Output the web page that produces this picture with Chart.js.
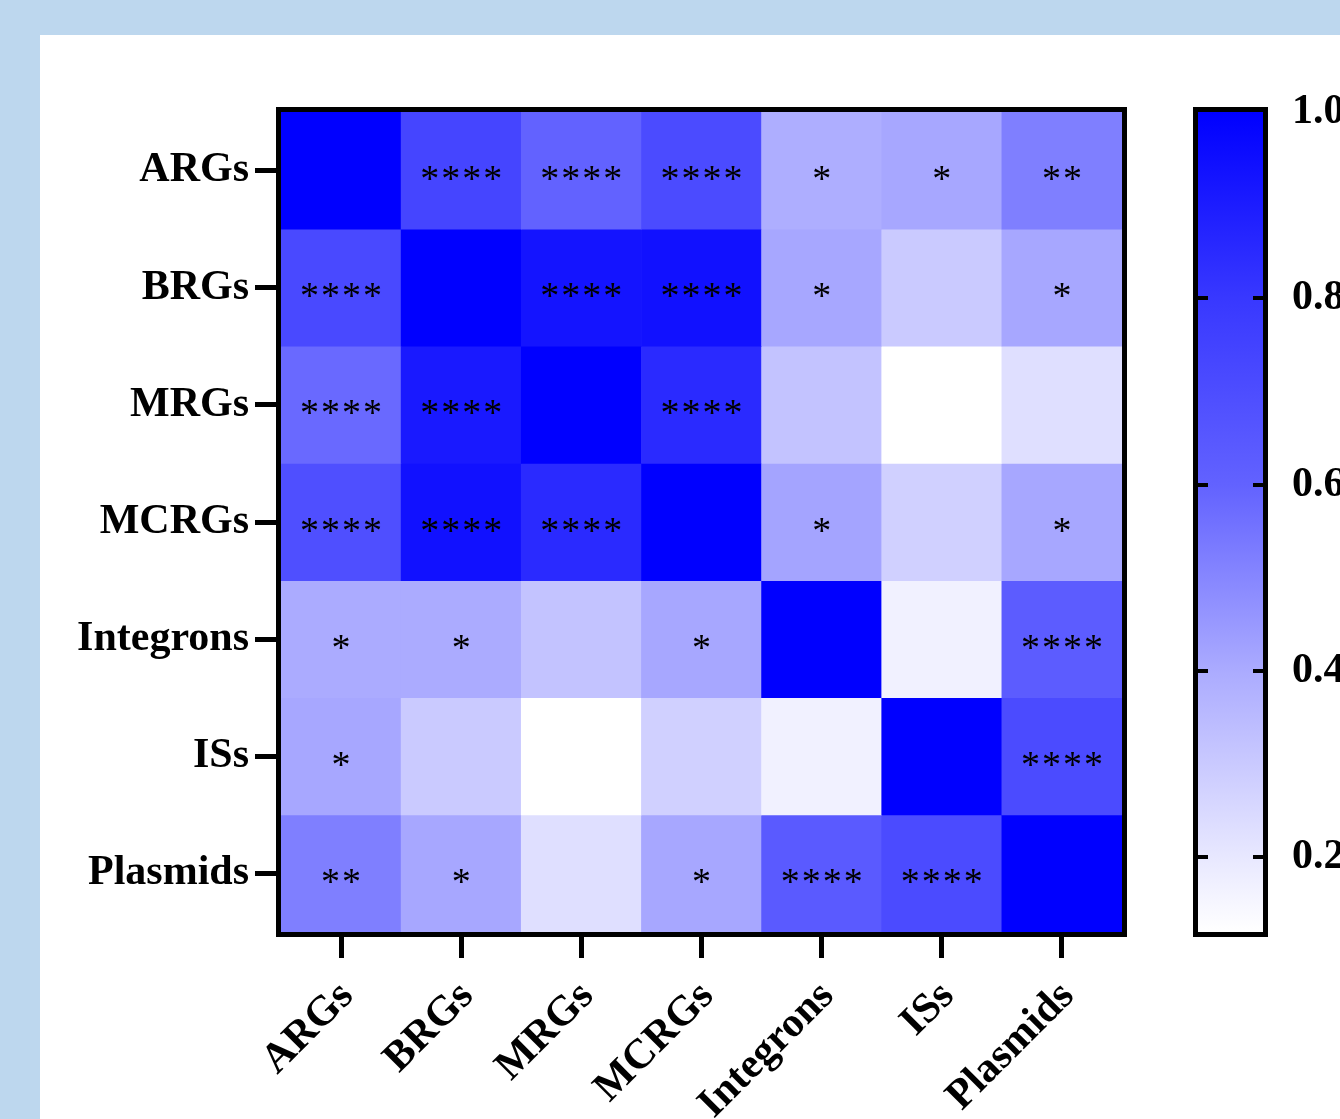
<!DOCTYPE html>
<html>
<head>
<meta charset="utf-8">
<script src="https://cdn.jsdelivr.net/npm/chart.js@4.4.0/dist/chart.umd.min.js"></script>
<style>
  html, body { margin: 0; padding: 0; }
  body { width: 1340px; height: 1119px; background: #BDD7EE; position: relative; overflow: hidden; }
  #panel { position: absolute; left: 40px; top: 35px; width: 1300px; height: 1084px; background: #fff; }
  #main { position: absolute; left: 0; top: 0; }
  #cbar { position: absolute; left: 1180px; top: 0; }
</style>
</head>
<body>
<div id="panel"></div>
<canvas id="main" width="1180" height="1119"></canvas>
<canvas id="cbar" width="160" height="1119"></canvas>
<script>
// ---------- data ----------
const categories = ['ARGs', 'BRGs', 'MRGs', 'MCRGs', 'Integrons', 'ISs', 'Plasmids'];

// correlation coefficients, one array per row (row order = categories)
const rowARGs      = [1.00, 0.74, 0.60, 0.71, 0.39, 0.41, 0.52];
const rowBRGs      = [0.72, 1.00, 0.93, 0.94, 0.41, 0.30, 0.41];
const rowMRGs      = [0.58, 0.91, 1.00, 0.85, 0.32, 0.12, 0.23];
const rowMCRGs     = [0.69, 0.94, 0.85, 1.00, 0.42, 0.28, 0.41];
const rowIntegrons = [0.40, 0.40, 0.32, 0.41, 1.00, 0.17, 0.63];
const rowISs       = [0.41, 0.30, 0.12, 0.28, 0.17, 1.00, 0.71];
const rowPlasmids  = [0.52, 0.41, 0.23, 0.41, 0.64, 0.71, 1.00];

// significance marks
const sigARGs      = ['', '****', '****', '****', '*', '*', '**'];
const sigBRGs      = ['****', '', '****', '****', '*', '', '*'];
const sigMRGs      = ['****', '****', '', '****', '', '', ''];
const sigMCRGs     = ['****', '****', '****', '', '*', '', '*'];
const sigIntegrons = ['*', '*', '', '*', '', '', '****'];
const sigISs       = ['*', '', '', '', '', '', '****'];
const sigPlasmids  = ['**', '*', '', '*', '****', '****', ''];

// colour bar
const cbMin = 0.12;
const cbMax = 1.0;
const cbTicks = [0.2, 0.4, 0.6, 0.8, 1.0];

const values = [rowARGs, rowBRGs, rowMRGs, rowMCRGs, rowIntegrons, rowISs, rowPlasmids];
const sigs = [sigARGs, sigBRGs, sigMRGs, sigMCRGs, sigIntegrons, sigISs, sigPlasmids];

// ---------- colour map (white -> blue) ----------
const cmapV = [0.12, 0.2, 0.4, 0.6, 0.8, 1.0];
const cmapL = [255, 232, 171, 98, 56, 0];
function colorFor(v) {
  v = Math.max(cmapV[0], Math.min(cmapV[cmapV.length - 1], v));
  let i = 0;
  while (i < cmapV.length - 2 && v > cmapV[i + 1]) i++;
  const t = (v - cmapV[i]) / (cmapV[i + 1] - cmapV[i]);
  const l = Math.round(cmapL[i] + t * (cmapL[i + 1] - cmapL[i]));
  return `rgb(${l},${l},255)`;
}

Chart.defaults.color = '#000';
Chart.defaults.font.family = "'Liberation Serif', 'Times New Roman', serif";

const FONT_LBL = { family: "'Liberation Serif', 'Times New Roman', serif", size: 42, weight: 'bold' };

// ---------- main heatmap ----------
const datasets = values.map((row, r) => ({
  label: categories[r],
  data: row.map(() => [r, r + 1]),
  backgroundColor: row.map(v => colorFor(v)),
  borderWidth: 0,
  barPercentage: 1.0,
  categoryPercentage: 1.0
}));

const framePlugin = {
  id: 'frame',
  afterDatasetsDraw(chart) {
    const { ctx, scales } = chart;
    ctx.save();
    ctx.fillStyle = '#000';
    ctx.font = "38px 'Liberation Serif', 'Times New Roman', serif";
    try { ctx.letterSpacing = '2px'; } catch (e) {}
    ctx.textAlign = 'center';
    ctx.textBaseline = 'alphabetic';
    sigs.forEach((row, r) => {
      row.forEach((s, c) => {
        if (!s) return;
        const x = scales.x.getPixelForValue(c) + 1;
        const y = scales.y.getPixelForValue(r + 0.5);
        const m = ctx.measureText(s);
        const yb = y + (m.actualBoundingBoxAscent - m.actualBoundingBoxDescent) / 2 + 3;
        ctx.fillText(s, x, yb);
      });
    });
    ctx.restore();
  },
  afterDraw(chart) {
    const { ctx, chartArea: a } = chart;
    ctx.save();
    ctx.strokeStyle = '#000';
    ctx.lineWidth = 5;
    ctx.strokeRect(a.left - 2.5, a.top - 2.5, a.right - a.left + 5, a.bottom - a.top + 5);
    ctx.restore();
  }
};

new Chart(document.getElementById('main'), {
  type: 'bar',
  data: { labels: categories, datasets },
  options: {
    responsive: false,
    animation: false,
    devicePixelRatio: 1,
    layout: { padding: { top: 112, right: 58, bottom: 0, left: 0 } },
    plugins: { legend: { display: false }, tooltip: { enabled: false } },
    scales: {
      x: {
        type: 'category',
        stacked: true,
        offset: true,
        grid: { display: true, offset: false, drawOnChartArea: false, drawTicks: true, tickLength: 26, lineWidth: 5, color: '#000' },
        border: { display: false },
        ticks: { font: FONT_LBL, color: '#000', maxRotation: 45, minRotation: 45, padding: 14, labelOffset: 6, autoSkip: false },
        afterFit(scale) { scale.height = 187; }
      },
      y: {
        type: 'linear',
        reverse: true,
        min: 0,
        max: 7,
        grid: { display: true, drawOnChartArea: false, drawTicks: true, tickLength: 26, lineWidth: 5, color: '#000' },
        border: { display: false },
        afterBuildTicks(scale) { scale.ticks = categories.map((_, i) => ({ value: i + 0.5 })); },
        ticks: {
          font: FONT_LBL, color: '#000', padding: 6, autoSkip: false,
          callback: (v) => categories[Math.floor(v)]
        },
        afterFit(scale) { scale.width = 281; }
      }
    }
  },
  plugins: [framePlugin]
});

// ---------- colour bar ----------
const cbPlugin = {
  id: 'cbframe',
  afterDraw(chart) {
    const { ctx, chartArea: a, scales } = chart;
    ctx.save();
    ctx.strokeStyle = '#000';
    ctx.lineWidth = 4;
    cbTicks.forEach(v => {
      if (v >= cbMax) return;
      const y = Math.round(scales.y.getPixelForValue(v));
      ctx.beginPath();
      ctx.moveTo(a.left, y); ctx.lineTo(a.left + 10, y);
      ctx.moveTo(a.right - 10, y); ctx.lineTo(a.right, y);
      ctx.stroke();
    });
    ctx.lineWidth = 5;
    ctx.strokeRect(a.left - 2.5, a.top - 2.5, a.right - a.left + 5, a.bottom - a.top + 5);
    ctx.restore();
  }
};

new Chart(document.getElementById('cbar'), {
  type: 'bar',
  data: {
    labels: [''],
    datasets: [{
      data: [[cbMin, cbMax]],
      borderWidth: 0,
      barPercentage: 1.0,
      categoryPercentage: 1.0,
      backgroundColor(ctx) {
        const chart = ctx.chart;
        const a = chart.chartArea;
        if (!a) return '#00f';
        const ys = chart.scales.y;
        const y0 = ys.getPixelForValue(cbMin), y1 = ys.getPixelForValue(cbMax);
        const g = chart.ctx.createLinearGradient(0, y0, 0, y1);
        cmapV.forEach(v => g.addColorStop((v - cbMin) / (cbMax - cbMin), colorFor(v)));
        return g;
      }
    }]
  },
  options: {
    responsive: false,
    animation: false,
    devicePixelRatio: 1,
    layout: { padding: { top: 112, right: 0, bottom: 187, left: 18 } },
    plugins: { legend: { display: false }, tooltip: { enabled: false } },
    scales: {
      x: { display: false, offset: true },
      y: {
        position: 'right',
        type: 'linear',
        min: cbMin,
        max: cbMax,
        grid: { display: false },
        border: { display: false },
        afterBuildTicks(scale) { scale.ticks = cbTicks.map(v => ({ value: v })); },
        ticks: { font: FONT_LBL, color: '#000', padding: 21, callback: (v) => Number(v).toFixed(1) },
        afterFit(scale) { scale.width = 77; }
      }
    }
  },
  plugins: [cbPlugin]
});
</script>
</body>
</html>
